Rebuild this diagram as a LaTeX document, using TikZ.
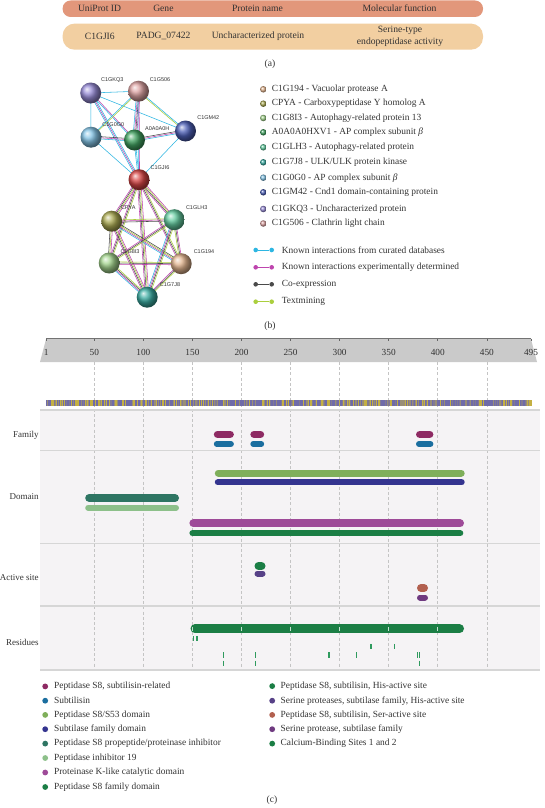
\documentclass[tikz,border=0pt]{standalone}
\usepackage{fontspec}
\setmainfont{Liberation Serif}
\newfontfamily\lsans{Liberation Sans}
\usetikzlibrary{calc}
\pgfdeclarelayer{bg}
\pgfdeclarelayer{paper}
\pgfsetlayers{paper,bg,main}
\definecolor{hdr}{HTML}{E2977B}
\definecolor{rowc}{HTML}{F2CFA1}
\definecolor{txt}{HTML}{333333}
\definecolor{ecyan}{HTML}{2DB6E2}
\definecolor{emag}{HTML}{BE45AE}
\definecolor{egray}{HTML}{4A4A4A}
\definecolor{egrn}{HTML}{ABCF3E}
\definecolor{cKQ}{HTML}{978BD6}
\definecolor{c506}{HTML}{DCA2A2}
\definecolor{cM42}{HTML}{4D60B8}
\definecolor{cG0}{HTML}{84C4E6}
\definecolor{cA0}{HTML}{42A462}
\definecolor{cJI}{HTML}{D84646}
\definecolor{cPY}{HTML}{ABAA52}
\definecolor{cLH}{HTML}{64CCA0}
\definecolor{c8I}{HTML}{A3D48D}
\definecolor{c194}{HTML}{E2B48E}
\definecolor{c7J}{HTML}{3AACA2}
\definecolor{famA}{HTML}{8E2A63}
\definecolor{famB}{HTML}{1B6E9F}
\definecolor{dLg}{HTML}{7FAF5A}
\definecolor{dInd}{HTML}{34348F}
\definecolor{dTeal}{HTML}{2E7563}
\definecolor{dPale}{HTML}{8DC08A}
\definecolor{dMag}{HTML}{9E4A98}
\definecolor{dGrn}{HTML}{1B7E45}
\definecolor{aPur}{HTML}{574187}
\definecolor{aBrn}{HTML}{B2604F}
\definecolor{aPurB}{HTML}{6F3A80}
\definecolor{rTick}{HTML}{2F9A5E}
\definecolor{panel}{HTML}{F5F3F5}
\definecolor{sepc}{HTML}{D6D6D6}
\definecolor{gridc}{HTML}{C4C4C4}
\definecolor{rulerc}{HTML}{CACACA}
\definecolor{seqB}{HTML}{6F6BA9}
\definecolor{seqY}{HTML}{CDB838}
\newcommand\edg[4]{%
  \foreach \ecol [count=\eidx] in {#4}{%
    \pgfmathsetlengthmacro\eoff{(\eidx-(#3+1)/2)*1.15pt}%
    \draw[\ecol, line width=0.55pt] ($(#1)!\eoff!90:(#2)$) -- ($(#2)!\eoff!-90:(#1)$);
  }}
\newcommand\pill[5]{%
  \draw[#5, line width=#4pt, line cap=round] ({#1+#4/2},#3) -- ({#2-#4/2},#3);}
\begin{document}
\begin{tikzpicture}[x=1pt,y=-1pt,
  tbl/.style={font=\fontsize{9.6}{12.2}\selectfont, text=txt, inner sep=0pt, align=center},
  nball/.style={circle, inner sep=0pt, minimum size=21pt, shading=ball},
  nlab/.style={font=\lsans\fontsize{5.5}{6}\selectfont, text=txt, inner sep=0pt},
  ltxt/.style={anchor=west, font=\fontsize{9.4}{11}\selectfont, text=txt, inner sep=0pt},
  lball/.style={circle, inner sep=0pt, minimum size=6.5pt, shading=ball},
  edot/.style={circle, inner sep=0pt, minimum size=4.6pt},
  ldot/.style={circle, inner sep=0pt, minimum size=5.8pt},
  tlab/.style={anchor=east, font=\fontsize{9}{11}\selectfont, text=txt, inner sep=0pt},
  rlab/.style={font=\fontsize{9.3}{11}\selectfont, text=txt, inner sep=0pt},
  capt/.style={font=\fontsize{9.6}{11}\selectfont, text=txt, inner sep=0pt}]
\useasboundingbox (0,0) rectangle (545,808);
\begin{pgfonlayer}{paper}
\fill[white] (0,0) rectangle (545,808);
\end{pgfonlayer}

% ---------- (a) table
\fill[hdr, rounded corners=8pt] (62.6,0.5) rectangle (483,17);
\fill[rowc, rounded corners=12pt] (62.6,23.6) rectangle (483,49.7);
\node[tbl] (h1) at (99.5,8.5) {UniProt ID};
\node[tbl] (h2) at (163.4,8.5) {Gene};
\node[tbl] (h3) at (257.5,8.5) {Protein name};
\node[tbl] (h4) at (399.5,8.5) {Molecular function};
\node[tbl] (r1) at (99.8,36.3) {C1GJI6};
\node[tbl] (r2) at (163.4,36.3) {PADG\_07422};
\node[tbl] (r3) at (258,36.3) {Uncharacterized protein};
\node[tbl] (r4) at (400,36.3) {Serine-type\\endopeptidase activity};
\node[capt] (capa) at (270,64.3) {(a)};

% ---------- (b) network
\node[nball, ball color=cKQ] (kq3) at (90.7,93) {};
\node[nball, ball color=c506] (g506) at (138.5,91.2) {};
\node[nball, ball color=cM42] (gm42) at (185.5,131) {};
\node[nball, ball color=cG0] (g0g0) at (91,137.2) {};
\node[nball, ball color=cA0] (a0a0) at (134.5,140) {};
\node[nball, ball color=cJI] (ji6) at (139,179.7) {};
\node[nball, ball color=cPY] (cpya) at (111.7,221.2) {};
\node[nball, ball color=cLH] (lh3) at (174.3,219.7) {};
\node[nball, ball color=c8I] (g8i3) at (109.2,263) {};
\node[nball, ball color=c194] (g194) at (181.2,263.7) {};
\node[nball, ball color=c7J] (g7j8) at (147.2,297.2) {};
\begin{pgfonlayer}{bg}
\edg{kq3}{g506}{1}{ecyan}
\edg{kq3}{g0g0}{1}{ecyan}
\edg{kq3}{gm42}{1}{ecyan}
\edg{kq3}{ji6}{3}{ecyan,emag,ecyan}
\edg{kq3}{a0a0}{2}{ecyan,emag}
\edg{g506}{g0g0}{2}{ecyan,egrn}
\edg{g506}{a0a0}{4}{ecyan,emag,egray,emag}
\edg{g506}{gm42}{2}{egrn,ecyan}
\edg{g506}{ji6}{2}{ecyan,emag}
\edg{g0g0}{a0a0}{3}{ecyan,emag,egray}
\edg{g0g0}{ji6}{1}{ecyan}
\edg{a0a0}{gm42}{3}{ecyan,emag,egray}
\edg{a0a0}{ji6}{2}{ecyan,ecyan}
\edg{gm42}{ji6}{1}{ecyan}
\edg{ji6}{cpya}{4}{emag,egray,egrn,emag}
\edg{ji6}{lh3}{4}{emag,egray,egrn,emag}
\edg{ji6}{g8i3}{3}{emag,egray,egrn}
\edg{ji6}{g194}{3}{emag,egray,egrn}
\edg{ji6}{g7j8}{4}{emag,egray,egrn,emag}
\edg{cpya}{lh3}{3}{egray,emag,egrn}
\edg{cpya}{g8i3}{3}{egray,egrn,emag}
\edg{cpya}{g194}{4}{ecyan,emag,egrn,egray}
\edg{cpya}{g7j8}{4}{emag,egray,egrn,emag}
\edg{lh3}{g8i3}{3}{emag,egray,egrn}
\edg{lh3}{g194}{3}{egrn,egray,emag}
\edg{lh3}{g7j8}{4}{ecyan,emag,egray,egrn}
\edg{g8i3}{g194}{3}{emag,egray,egrn}
\edg{g8i3}{g7j8}{4}{ecyan,emag,egray,egrn}
\edg{g194}{g7j8}{3}{emag,egray,egrn}
\end{pgfonlayer}
\node[nlab] (lkq3) at (112.3,80) {C1GKQ3};
\node[nlab] (l506) at (160,79.3) {C1G506};
\node[nlab] (lm42) at (208.3,117.7) {C1GM42};
\node[nlab] (lg0) at (113.3,124.3) {C1G0G0};
\node[nlab] (la0) at (157.3,128.3) {A0A0A0H};
\node[nlab] (lji6) at (160,167.7) {C1GJI6};
\node[nlab] (lpy) at (128.3,207.7) {CPYA};
\node[nlab] (llh) at (196.7,207.3) {C1GLH3};
\node[nlab] (l8i) at (130,251.7) {C1G8I3};
\node[nlab] (l194) at (204,251.7) {C1G194};
\node[nlab] (l7j) at (170,285) {C1G7J8};

% network legend
\node[lball, ball color=c194] (b1) at (263.3,89.3) {};
\node[ltxt] (t1) at (271.7,89.3) {C1G194 - Vacuolar protease A};
\node[lball, ball color=cPY] (b2) at (263.3,103.7) {};
\node[ltxt] (t2) at (271.7,103.7) {CPYA - Carboxypeptidase Y homolog A};
\node[lball, ball color=c8I] (b3) at (263.3,118) {};
\node[ltxt] (t3) at (271.7,118) {C1G8I3 - Autophagy-related protein 13};
\node[lball, ball color=cA0] (b4) at (263.3,132.3) {};
\node[ltxt] (t4) at (271.7,132.3) {A0A0A0HXV1 - AP complex subunit \textit{β}};
\node[lball, ball color=cLH] (b5) at (263.3,147.3) {};
\node[ltxt] (t5) at (271.7,147.3) {C1GLH3 - Autophagy-related protein};
\node[lball, ball color=c7J] (b6) at (263.3,162.3) {};
\node[ltxt] (t6) at (271.7,162.3) {C1G7J8 - ULK/ULK protein kinase};
\node[lball, ball color=cG0] (b7) at (263.3,177.7) {};
\node[ltxt] (t7) at (271.7,177.7) {C1G0G0 - AP complex subunit \textit{β}};
\node[lball, ball color=cM42] (b8) at (263.3,192.3) {};
\node[ltxt] (t8) at (271.7,192.3) {C1GM42 - Cnd1 domain-containing protein};
\node[lball, ball color=cKQ] (b9) at (263.3,209) {};
\node[ltxt] (t9) at (271.7,209) {C1GKQ3 - Uncharacterized protein};
\node[lball, ball color=c506] (b10) at (263.3,223.5) {};
\node[ltxt] (t10) at (271.7,223.5) {C1G506 - Clathrin light chain};

\foreach \ec/\ey/\et [count=\k] in {ecyan/250/Known interactions from curated databases,
  emag/267.3/Known interactions experimentally determined,
  egray/284.3/Co-expression,
  egrn/301.7/Textmining}{
  \node[edot, fill=\ec] (ka\k) at (255.7,\ey) {};
  \node[edot, fill=\ec] (kb\k) at (271.7,\ey) {};
  \draw[\ec, line width=1pt] (ka\k) -- (kb\k);
  \node[ltxt] (kt\k) at (281.7,\ey) {\et};
}
\node[capt] (capb) at (270,326) {(b)};

% ---------- (c) feature viewer
\fill[panel] (40,410) rectangle (540,670);
\foreach \gx in {94.29,143.36,192.43,241.5,290.57,339.64,388.71,437.78,486.85}
  \draw[gridc, line width=0.6pt, dash pattern=on 3pt off 2.2pt] (\gx,362) -- (\gx,670);
\foreach \sy in {410,450.4,543.6,605.9,670}
  \draw[sepc, line width=1.3pt] (40,\sy) -- (540,\sy);
% ruler
\fill[rulerc] (46.2,338.5) -- (530.8,338.5) -- (537,362) -- (40,362) -- cycle;
\draw[black!55, line width=0.8pt] (46.2,338.5) -- (530.8,338.5);
\foreach \p/\gx in {1/46.2,50/94.29,100/143.36,150/192.43,200/241.5,250/290.57,300/339.64,350/388.71,400/437.78,450/486.85,495/531}{
  \draw[black!60, line width=0.6pt] (\gx,338.5) -- (\gx,340.5);
  \node[rlab] (rl\p) at (\gx,352) {\p};
}
% sequence bar
\fill[seqB] (45.7,400) rectangle (531.3,405.5);
\pgfmathsetseed{17}
\foreach \i in {1,...,495}{
  \pgfmathsetmacro\xa{45.7+(\i-1)*0.9814}
  \pgfmathsetmacro\rr{rnd}
  \pgfmathtruncatemacro\mix{\rr<0.22 ? 90 : (\rr<0.4 ? 45 : (\rr<0.55 ? 20 : 0))}
  \ifnum\mix>0 \fill[seqY!\mix!seqB] (\xa,400) rectangle ++(1.02,5.5);\fi
}
% track labels
\node[tlab] (lfam) at (38.8,435.3) {Family};
\node[tlab] (ldom) at (38.8,496.3) {Domain};
\node[tlab] (lact) at (38.8,577.4) {Active site};
\node[tlab] (lres) at (38.8,642.4) {Residues};
% family
\pill{213.8}{233.9}{434.3}{7.6}{famA}
\pill{250.3}{264.2}{434.3}{7.6}{famA}
\pill{416}{433.4}{434.3}{7.6}{famA}
\pill{213.8}{233.9}{444}{6}{famB}
\pill{250.3}{264.2}{444}{6}{famB}
\pill{416}{433.4}{444}{6}{famB}
% domain
\pill{214.8}{464.7}{473}{7}{dLg}
\pill{214.8}{464.7}{482.4}{6}{dInd}
\pill{85.2}{179}{498}{8}{dTeal}
\pill{85.2}{179}{507.8}{6}{dPale}
\pill{189.4}{464}{523.4}{8}{dMag}
\pill{189.4}{463.3}{533.2}{6}{dGrn}
% active site
\pill{254.5}{265.5}{566}{8}{dGrn}
\pill{254.5}{265.5}{573.5}{6}{aPur}
\pill{417}{428}{588}{8}{aBrn}
\pill{417}{428}{597.5}{6}{aPurB}
% residues
\pill{190.5}{464}{628.8}{9}{dGrn}
\foreach \gx in {192.43,241.5,290.57,339.64,388.71,437.78}
  \draw[white!75!dGrn, line width=0.6pt] (\gx,626.8) -- (\gx,630.8);
\foreach \tx/\ty/\tw in {193.6/638.6/0.9,197.1/638.6/1.6,
  370.2/646.5/1.1,371.9/646.5/1.1,394.5/646.5/1.1,
  223.5/654.9/1.1,255.5/654.9/1.1,329.2/654.9/1.6,356.3/654.9/1.1,417.1/654.9/1.1,419.5/654.9/1.1,
  223.5/663.2/1.1,255.5/663.2/1.1,419.9/663.2/1.1}
  \draw[rTick, line width=\tw pt] (\tx,\ty-2.6) -- (\tx,\ty+2.6);

% legend (c)
\foreach \lc/\ly/\lt [count=\k] in {famA/686.4/{Peptidase S8, subtilisin-related},
  famB/700.7/{Subtilisin},
  dLg/714.9/{Peptidase S8/S53 domain},
  dInd/729.2/{Subtilase family domain},
  dTeal/743.6/{Peptidase S8 propeptide/proteinase inhibitor},
  dPale/758/{Peptidase inhibitor 19},
  dMag/772.5/{Proteinase K-like catalytic domain},
  dGrn/787/{Peptidase S8 family domain}}{
  \node[ldot, fill=\lc] (cd\k) at (45.2,\ly) {};
  \node[ltxt] (ct\k) at (53.9,\ly) {\lt};
}
\foreach \lc/\ly/\lt [count=\k] in {dGrn/686.1/{Peptidase S8, subtilisin, His-active site},
  aPur/700.7/{Serine proteases, subtilase family, His-active site},
  aBrn/714.9/{Peptidase S8, subtilisin, Ser-active site},
  aPurB/729.2/{Serine protease, subtilase family},
  dGrn/743.6/{Calcium-Binding Sites 1 and 2}}{
  \node[ldot, fill=\lc] (rd\k) at (272.2,\ly) {};
  \node[ltxt] (rt\k) at (280.5,\ly) {\lt};
}
\node[capt] (capc) at (272,800) {(c)};
\end{tikzpicture}
\end{document}
